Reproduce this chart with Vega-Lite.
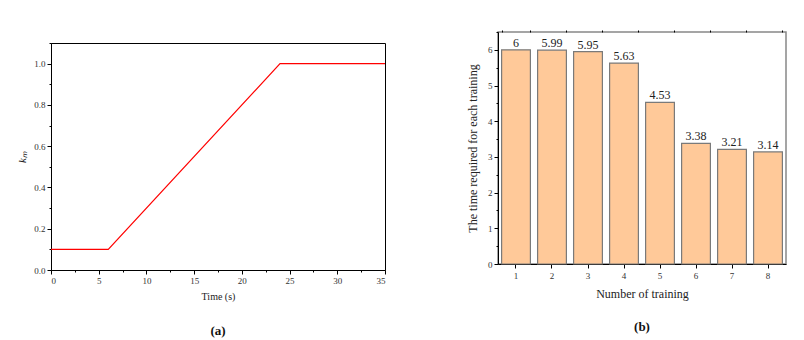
{
  "$schema": "https://vega.github.io/schema/vega-lite/v6.json",
  "padding": {"left": 16, "top": 26, "right": 5, "bottom": 5},
  "background": "white",
  "spacing": 77,
  "config": {
    "font": "Liberation Serif",
    "view": {"stroke": null},
    "axis": {
      "grid": false,
      "labelFont": "Liberation Serif",
      "titleFont": "Liberation Serif",
      "labelColor": "#333333",
      "titleColor": "#222222",
      "titleFontWeight": "normal",
      "domainColor": "#000000",
      "tickColor": "#000000",
      "labelFontSize": 9,
      "titleFontSize": 10,
      "labelOverlap": false
    },
    "title": {"font": "Liberation Serif", "color": "#111111"}
  },
  "hconcat": [
    {
      "spacing": 0,
      "vconcat": [
        {
          "width": 334,
          "height": 1,
          "data": {"values": [{"s": ""}]},
          "mark": {"type": "text", "opacity": 0},
          "encoding": {"text": {"field": "s", "type": "nominal"}}
        },
        {
          "width": 334,
          "height": 227,
          "view": {"stroke": "#000000", "strokeWidth": 1},
          "title": {"text": "(a)", "orient": "bottom", "fontSize": 13, "fontWeight": "bold", "offset": 24},
          "data": {"values": [
            {"t": 0, "k": 0.1},
            {"t": 6, "k": 0.1},
            {"t": 24, "k": 1.0},
            {"t": 35, "k": 1.0}
          ]},
          "mark": {"type": "line", "color": "#ff0000", "strokeWidth": 1.2},
          "encoding": {
            "x": {
              "field": "t", "type": "quantitative",
              "scale": {"domain": [0, 35], "nice": false, "zero": false},
              "axis": {
                "title": "Time (s)",
                "titlePadding": 6,
                "labelOverlap": false,
                "values": [0, 2.5, 5, 7.5, 10, 12.5, 15, 17.5, 20, 22.5, 25, 27.5, 30, 32.5, 35],
                "labelExpr": "datum.value % 5 === 0 ? format(datum.value, 'd') : ''",
                "tickSize": {"condition": {"test": "datum.value % 5 === 0", "value": 4}, "value": 2},
                "labelPadding": 2
              }
            },
            "y": {
              "field": "k", "type": "quantitative",
              "scale": {"domain": [0, 1.1], "nice": false},
              "axis": {
                "title": "kₘ",
                "titleFontStyle": "italic",
                "titleFontSize": 11,
                "titlePadding": 6,
                "labelOverlap": false,
                "values": [0, 0.1, 0.2, 0.3, 0.4, 0.5, 0.6, 0.7, 0.8, 0.9, 1.0, 1.1],
                "labelExpr": "(round(datum.value * 10) % 2 === 0 && datum.value < 1.05) ? format(datum.value, '.1f') : ''",
                "tickSize": {"condition": {"test": "round(datum.value * 10) % 2 === 0", "value": 4}, "value": 2},
                "labelPadding": 2
              }
            }
          }
        }
      ]
    },
    {
      "width": 288,
      "height": 232,
      "view": {"stroke": "#888888", "strokeWidth": 1.5},
      "title": {"text": "(b)", "orient": "bottom", "fontSize": 13, "fontWeight": "bold", "offset": 22},
      "data": {"values": [
        {"n": 1, "v": 6},
        {"n": 2, "v": 5.99},
        {"n": 3, "v": 5.95},
        {"n": 4, "v": 5.63},
        {"n": 5, "v": 4.53},
        {"n": 6, "v": 3.38},
        {"n": 7, "v": 3.21},
        {"n": 8, "v": 3.14}
      ]},
      "encoding": {
        "y": {
          "field": "v", "type": "quantitative",
          "scale": {"domain": [0, 6.5], "nice": false},
          "axis": {
            "title": "The time required for each training",
            "titleFontSize": 12,
            "titlePadding": 8,
            "labelOverlap": false,
            "values": [0, 0.5, 1, 1.5, 2, 2.5, 3, 3.5, 4, 4.5, 5, 5.5, 6, 6.5],
            "labelExpr": "datum.value % 1 === 0 ? format(datum.value, 'd') : ''",
            "tickSize": {"condition": {"test": "datum.value % 1 === 0", "value": 4}, "value": 2},
            "labelPadding": 2
          }
        }
      },
      "layer": [
        {
          "mark": {"type": "bar", "fill": "#ffc999", "stroke": "#7a7a7a", "strokeWidth": 1.2},
          "encoding": {
            "x": {
              "field": "n", "type": "ordinal",
              "scale": {"paddingInner": 0.2, "paddingOuter": 0.1},
              "axis": {"title": "Number of training", "titleFontSize": 12, "titlePadding": 8, "labelAngle": 0, "tickSize": 4, "labelPadding": 3}
            }
          }
        },
        {
          "mark": {"type": "text", "fontSize": 12, "baseline": "alphabetic", "dy": -3, "color": "#222222"},
          "encoding": {
            "x": {
              "field": "n", "type": "ordinal",
              "axis": {"tickBand": "extent", "labels": false, "domain": false, "ticks": true, "tickSize": 2, "title": null}
            },
            "text": {"field": "v", "type": "nominal"}
          }
        }
      ],
      "resolve": {"axis": {"x": "independent"}}
    }
  ]
}
